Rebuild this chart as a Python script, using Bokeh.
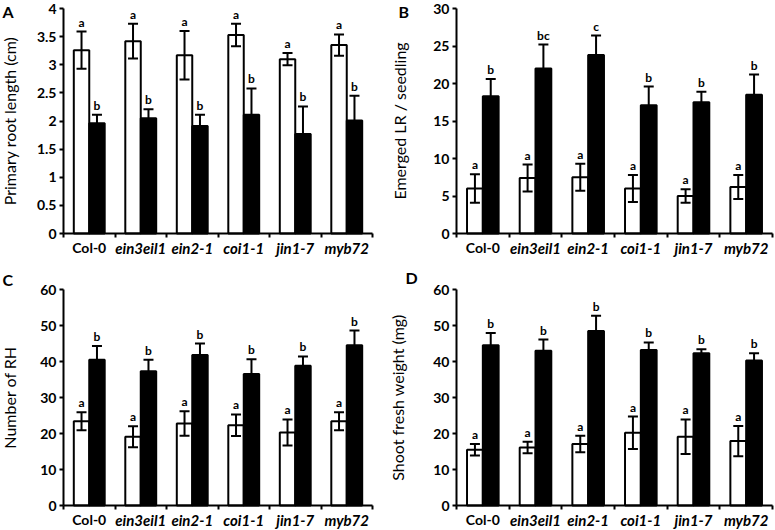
from bokeh.plotting import figure
from bokeh.layouts import column, row
from bokeh.models import (ColumnDataSource, Range1d, FixedTicker, SingleIntervalTicker,
                          NumeralTickFormatter, Whisker, TeeHead, LabelSet, Label,
                          LinearAxis)
from bokeh.core.properties import value
from bokeh.embed import file_html
from bokeh.resources import INLINE

# ---------------- data ----------------
categories = ["Col-0", "ein3eil1", "ein2-1", "coi1-1", "jin1-7", "myb72"]
wild_type = "Col-0"

# A: primary root length (cm)
root_ctrl = [3.26, 3.42, 3.17, 3.53, 3.10, 3.35]
root_ctrl_err = [0.33, 0.31, 0.43, 0.20, 0.11, 0.19]
root_trt = [1.96, 2.05, 1.91, 2.11, 1.77, 2.01]
root_trt_err = [0.15, 0.16, 0.20, 0.47, 0.49, 0.44]
root_ctrl_letters = ["a", "a", "a", "a", "a", "a"]
root_trt_letters = ["b", "b", "b", "b", "b", "b"]

# B: emerged LR / seedling
lr_ctrl = [6.0, 7.4, 7.5, 6.0, 5.0, 6.2]
lr_ctrl_err = [1.9, 1.8, 1.8, 1.8, 0.9, 1.6]
lr_trt = [18.3, 22.0, 23.8, 17.1, 17.5, 18.5]
lr_trt_err = [2.3, 3.2, 2.6, 2.5, 1.4, 2.7]
lr_ctrl_letters = ["a", "a", "a", "a", "a", "a"]
lr_trt_letters = ["b", "bc", "c", "b", "b", "b"]

# C: number of root hairs
rh_ctrl = [23.4, 19.1, 22.8, 22.3, 20.3, 23.4]
rh_ctrl_err = [2.5, 2.9, 3.4, 3.0, 3.6, 2.5]
rh_trt = [40.5, 37.3, 41.8, 36.5, 38.8, 44.5]
rh_trt_err = [3.8, 3.2, 3.2, 4.1, 2.6, 4.1]
rh_ctrl_letters = ["a", "a", "a", "a", "a", "a"]
rh_trt_letters = ["b", "b", "b", "b", "b", "b"]

# D: shoot fresh weight (mg)
fw_ctrl = [15.5, 16.1, 17.1, 20.2, 19.1, 17.9]
fw_ctrl_err = [1.6, 1.6, 2.3, 4.5, 4.8, 4.2]
fw_trt = [44.5, 43.0, 48.5, 43.2, 42.3, 40.3]
fw_trt_err = [3.4, 3.1, 4.2, 2.1, 1.1, 2.0]
fw_ctrl_letters = ["a", "a", "a", "a", "a", "a"]
fw_trt_letters = ["b", "b", "b", "b", "b", "b"]

FONT = "Lato"
OFF = 0.15
BAR_W = 0.30


def span(lo, hi, p_lo, p_hi, length):
    """Range whose values lo/hi land at pixel offsets p_lo/p_hi of the canvas."""
    scale = (p_hi - p_lo) / (hi - lo)
    return Range1d(lo - p_lo / scale, hi + (length - p_hi) / scale)


def panel(letter, ylabel, ymax, yint, ctrl, ctrl_err, trt, trt_err,
          ctrl_letters, trt_letters, width, height, frame_px, label_standoff,
          letter_dx, letter_dy):
    n = len(categories)
    x_lo, x_hi = -0.5, n - 0.5
    left, right, top, bottom = frame_px  # pixel positions of the plot box
    p = figure(width=width, height=height,
               x_range=span(x_lo, x_hi, left, right, width),
               y_range=span(0, ymax, height - bottom, height - top, height),
               x_axis_type=None, y_axis_type=None, title=None,
               output_backend="svg", toolbar_location=None,
               min_border_left=0, min_border_right=0, min_border_top=0,
               min_border_bottom=0)
    p.outline_line_color = None
    p.background_fill_color = "white"
    p.border_fill_color = "white"

    centers = list(range(n))
    groups = [
        (ctrl, ctrl_err, ctrl_letters, -OFF, "white"),
        (trt, trt_err, trt_letters, OFF, "black"),
    ]
    for vals, errs, lets, off, color in groups:
        src = ColumnDataSource(dict(
            x=[c + off for c in centers],
            top=vals,
            upper=[v + e for v, e in zip(vals, errs)],
            lower=[v - e for v, e in zip(vals, errs)],
            letter=lets,
        ))
        p.vbar(x="x", top="top", width=BAR_W, bottom=0, source=src,
               fill_color=color, line_color="black", line_width=2)
        w = Whisker(base="x", upper="upper", lower="lower", source=src,
                    line_color="black", line_width=2, level="annotation",
                    upper_head=TeeHead(size=10, line_width=2, line_color="black"),
                    lower_head=TeeHead(size=10, line_width=2, line_color="black"))
        p.add_layout(w)
        p.add_layout(LabelSet(x="x", y="upper", text="letter", source=src,
                              text_align="center", text_baseline="alphabetic",
                              y_offset=5, text_font=value(FONT),
                              text_font_style=value("bold"),
                              text_font_size="12px", text_color="#000000"))

    # x axis: line along y = 0 with boundary ticks only
    xa = LinearAxis(fixed_location=0, bounds=(x_lo, x_hi),
                    ticker=FixedTicker(ticks=[], minor_ticks=[c + 0.5 for c in range(-1, n)]))
    xa.axis_line_width = 2
    xa.axis_line_color = "black"
    xa.major_tick_out = 0
    xa.major_tick_in = 0
    xa.minor_tick_out = 4
    xa.minor_tick_in = 0
    xa.minor_tick_line_width = 2
    xa.minor_tick_line_color = "black"
    xa.major_label_text_font_size = "0px"
    p.add_layout(xa, "below")

    # category names (wild type upright, mutants italic)
    for subset, style, size in (([c for c in categories if c == wild_type], "bold", "14px"),
                                ([c for c in categories if c != wild_type], "bold italic", "15px")):
        src = ColumnDataSource(dict(
            x=[categories.index(c) for c in subset],
            y=[0] * len(subset),
            name=subset,
        ))
        p.add_layout(LabelSet(x="x", y="y", text="name", source=src,
                              text_align="center", text_baseline="top",
                              y_offset=-5, text_font=value(FONT),
                              text_font_style=value(style),
                              text_font_size=size, text_color="black"))

    # y axis along x = left boundary
    ya = LinearAxis(fixed_location=x_lo, bounds=(0, ymax),
                    ticker=SingleIntervalTicker(interval=yint, num_minor_ticks=0),
                    formatter=NumeralTickFormatter(format="0.[0]"))
    ya.axis_line_width = 2
    ya.axis_line_color = "black"
    ya.major_tick_out = 4
    ya.major_tick_in = 0
    ya.major_tick_line_width = 2
    ya.minor_tick_out = 0
    ya.minor_tick_in = 0
    ya.major_label_standoff = 3
    ya.major_label_text_font = FONT
    ya.major_label_text_font_style = "bold"
    ya.major_label_text_font_size = "14px"
    ya.major_label_text_color = "black"
    ya.axis_label = ylabel
    ya.axis_label_text_font = FONT
    ya.axis_label_text_font_style = "normal"
    ya.axis_label_text_font_size = "16px"
    ya.axis_label_text_color = "black"
    ya.axis_label_standoff = label_standoff
    p.add_layout(ya, "left")

    p.add_layout(Label(x=x_lo, y=ymax, x_offset=letter_dx, y_offset=letter_dy,
                       text=letter, text_align="left", text_baseline="top",
                       text_font=FONT, text_font_style="bold",
                       text_font_size="16px", text_color="black"))
    return p


# frame_px = (left, right, top, bottom) pixel positions inside each canvas
pA = panel("A", "Primary root length (cm)", 4, 0.5, root_ctrl, root_ctrl_err,
           root_trt, root_trt_err, root_ctrl_letters, root_trt_letters,
           385, 260, (63, 372, 8, 233), 15, -61, 7)
pB = panel("B", "Emerged LR / seedling", 30, 5, lr_ctrl, lr_ctrl_err,
           lr_trt, lr_trt_err, lr_ctrl_letters, lr_trt_letters,
           390, 260, (71, 387, 8, 233), 21, -58, 7)
pC = panel("C", "Number of RH", 60, 10, rh_ctrl, rh_ctrl_err,
           rh_trt, rh_trt_err, rh_ctrl_letters, rh_trt_letters,
           385, 270, (63, 372, 29, 245), 18, -61, 20)
pD = panel("D", "Shoot fresh weight (mg)", 60, 10, fw_ctrl, fw_ctrl_err,
           fw_trt, fw_trt_err, fw_ctrl_letters, fw_trt_letters,
           390, 270, (71, 387, 29, 245), 23, -51, 22)

layout = column(row(pA, pB), row(pC, pD))

open("out.html", "w").write(file_html(layout, INLINE))
